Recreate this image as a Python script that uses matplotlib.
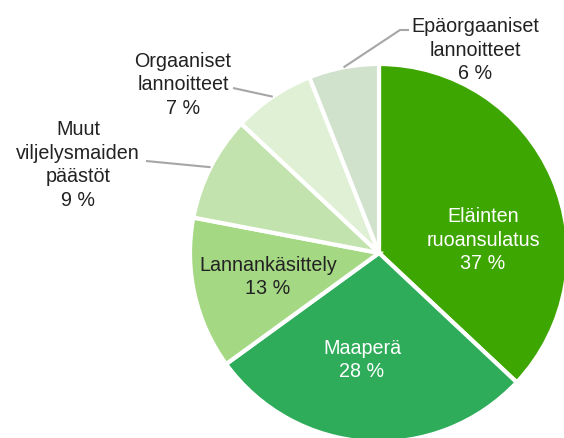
import matplotlib
matplotlib.use("Agg")
import matplotlib.pyplot as plt
import numpy as np

labels = ["Eläinten\nruoansulatus", "Maaperä", "Lannankäsittely",
          "Muut\nviljelysmaiden\npäästöt", "Orgaaniset\nlannoitteet",
          "Epäorgaaniset\nlannoitteet"]
values = [37, 28, 13, 9, 7, 6]
colors = ["#3ea600", "#2eac5a", "#a4d883", "#c3e3ae", "#dff0d4", "#d0e2cc"]
text_colors = ["white", "white", "#222222", "#222222", "#222222", "#222222"]

plt.rcParams["font.family"] = ["Liberation Sans", "DejaVu Sans"]

W, H = 564, 438
fig = plt.figure(figsize=(W / 100, H / 100), dpi=100)
ax = fig.add_axes([0, 0, 1, 1])

cx, cy, R = 379, 253, 189
cy_d = H - cy
wedges, _ = ax.pie(values, colors=colors, startangle=90, counterclock=False,
                   radius=R, center=(cx, cy_d),
                   wedgeprops=dict(edgecolor="white", linewidth=3))
ax.set_xlim(0, W)
ax.set_ylim(0, H)
ax.set_aspect("equal")
ax.axis("off")

fs = 14.2
label_pos = [(483, 240), (362, 360), (268, 277), (78, 165), (183, 85), (475, 50)]
for i, (lab, v) in enumerate(zip(labels, values)):
    x, y = label_pos[i]
    ax.text(x, H - y, f"{lab}\n{v} %", ha="center", va="center", fontsize=fs,
            color=text_colors[i], linespacing=1.33)

angles = []
start = 90.0
for v in values:
    span = v / sum(values) * 360
    angles.append(start - span / 2)
    start -= span

leaders = {3: [(146, 161)], 4: [(233, 88)], 5: [(409, 30), (400, 30)]}
for i, pts in leaders.items():
    a = np.deg2rad(angles[i])
    ex, ey = cx + R * np.cos(a), cy - R * np.sin(a)
    xs = [p[0] for p in pts] + [ex]
    ys = [H - p[1] for p in pts] + [H - ey]
    ax.plot(xs, ys, color="#a6a6a6", linewidth=1.5, solid_capstyle="butt")

fig.savefig("out.png", dpi=100)
